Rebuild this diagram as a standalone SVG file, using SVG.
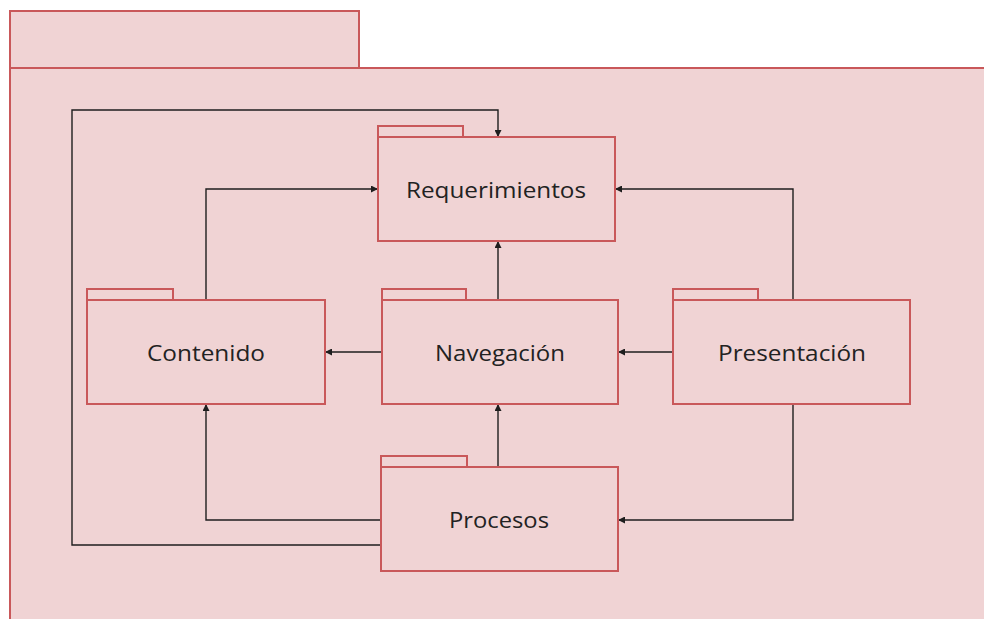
<svg xmlns="http://www.w3.org/2000/svg" width="984" height="619" viewBox="0 0 984 619">
  <style>
    .pkg { fill: #f0d3d4; stroke: #c9585a; stroke-width: 2; }
    .lbl { font-family: "Open Sans", "Liberation Sans", sans-serif; font-size: 22px; fill: #222222; text-anchor: middle; }
    .wire { fill: none; stroke: #1e1e1e; stroke-width: 1.4; marker-end: url(#arrow); }
  </style>
  <defs>
    <marker id="arrow" viewBox="0 0 10 10" refX="10" refY="5" markerWidth="7" markerHeight="7" markerUnits="userSpaceOnUse" orient="auto">
      <path d="M0,0 L10,5 L0,10 z" fill="#1e1e1e"/>
    </marker>
  </defs>
  <rect width="984" height="619" fill="#ffffff"/>

  <!-- outer package -->
  <g id="outer">
    <rect class="pkg" x="10" y="11" width="349" height="57"/>
    <rect class="pkg" x="10" y="68" width="990" height="560"/>
  </g>

  <!-- connectors -->
  <g id="connectors">
    <path class="wire" d="M381,545 L72,545 L72,110 L498,110 L498,137"/>
    <path class="wire" d="M206,300 L206,189 L378,189"/>
    <path class="wire" d="M793,300 L793,189 L615,189"/>
    <path class="wire" d="M498,300 L498,241"/>
    <path class="wire" d="M382,352 L325,352"/>
    <path class="wire" d="M673,352 L618,352"/>
    <path class="wire" d="M498,467 L498,404"/>
    <path class="wire" d="M381,520 L206,520 L206,404"/>
    <path class="wire" d="M793,404 L793,520 L618,520"/>
  </g>

  <g id="requerimientos">
    <rect class="pkg" x="378" y="126" width="85" height="11"/>
    <rect class="pkg" x="378" y="137" width="237" height="104"/>
    <text class="lbl" x="496" y="198" textLength="180" lengthAdjust="spacingAndGlyphs">Requerimientos</text>
  </g>

  <g id="contenido">
    <rect class="pkg" x="87" y="289" width="86" height="11"/>
    <rect class="pkg" x="87" y="300" width="238" height="104"/>
    <text class="lbl" x="206" y="361" textLength="118" lengthAdjust="spacingAndGlyphs">Contenido</text>
  </g>

  <g id="navegacion">
    <rect class="pkg" x="382" y="289" width="84" height="11"/>
    <rect class="pkg" x="382" y="300" width="236" height="104"/>
    <text class="lbl" x="500" y="361" textLength="130" lengthAdjust="spacingAndGlyphs">Navegación</text>
  </g>

  <g id="presentacion">
    <rect class="pkg" x="673" y="289" width="85" height="11"/>
    <rect class="pkg" x="673" y="300" width="237" height="104"/>
    <text class="lbl" x="792" y="361" textLength="148" lengthAdjust="spacingAndGlyphs">Presentación</text>
  </g>

  <g id="procesos">
    <rect class="pkg" x="381" y="456" width="86" height="11"/>
    <rect class="pkg" x="381" y="467" width="237" height="104"/>
    <text class="lbl" x="499" y="528" textLength="100" lengthAdjust="spacingAndGlyphs">Procesos</text>
  </g>
</svg>
